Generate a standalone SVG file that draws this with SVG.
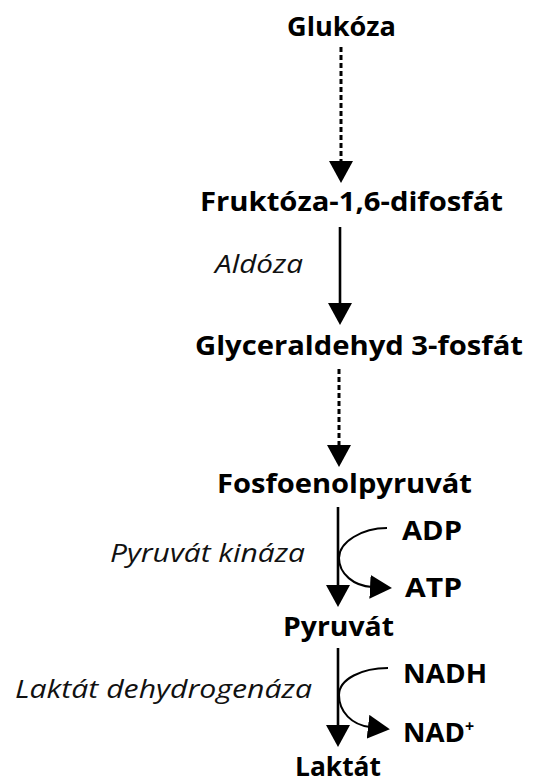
<svg xmlns="http://www.w3.org/2000/svg" width="533" height="784" viewBox="0 0 533 784">
<style>
.n{font-family:"Open Sans","DejaVu Sans",sans-serif;font-weight:bold;font-size:27px;fill:#000}
.e{font-family:"Open Sans","DejaVu Sans",sans-serif;font-style:italic;font-size:25px;fill:#111}
.s{stroke:#000;stroke-width:2.6;fill:none}
.d{stroke:#000;stroke-width:3;fill:none;stroke-dasharray:5 3}
.c{stroke:#000;stroke-width:2;fill:none}
</style>
<defs>
<marker id="ah" viewBox="0 0 22 24" refX="2" refY="12" markerWidth="22" markerHeight="24" markerUnits="userSpaceOnUse" orient="auto">
<path d="M0,0 L22,12 L0,24 z" fill="#000"/>
</marker>
</defs>
<g id="connectors">
<line class="d" x1="341" y1="47" x2="341" y2="163" marker-end="url(#ah)"/>
<line class="s" x1="340" y1="227" x2="340" y2="305" marker-end="url(#ah)"/>
<line class="d" x1="339" y1="369" x2="339" y2="447" marker-end="url(#ah)"/>
<line class="s" x1="338" y1="507" x2="338" y2="587" marker-end="url(#ah)"/>
<path class="c" d="M387,528 C362,528 339,542 339,558 C339,574 354,586 372,587" marker-end="url(#ah)"/>
<line class="s" x1="338" y1="648" x2="338" y2="727" marker-end="url(#ah)"/>
<path class="c" d="M388,668 C362,668 339,679 339,695 C339,712 352,725 370,727" marker-end="url(#ah)"/>
</g>
<g id="glukoza"><text class="n" x="287" y="36" textLength="109" lengthAdjust="spacingAndGlyphs">Glukóza</text></g>
<g id="fruktoza"><text class="n" x="200" y="211" textLength="303" lengthAdjust="spacingAndGlyphs">Fruktóza-1,6-difosfát</text></g>
<g id="aldoza"><text class="e" x="215" y="273" textLength="88" lengthAdjust="spacingAndGlyphs">Aldóza</text></g>
<g id="glyceraldehyd"><text class="n" x="195" y="355" textLength="328" lengthAdjust="spacingAndGlyphs">Glyceraldehyd 3-fosfát</text></g>
<g id="fosfoenolpyruvat"><text class="n" x="217" y="493" textLength="255" lengthAdjust="spacingAndGlyphs">Fosfoenolpyruvát</text></g>
<g id="pyruvat-kinaza"><text class="e" x="110" y="562" textLength="195" lengthAdjust="spacingAndGlyphs">Pyruvát kináza</text></g>
<g id="adp"><text class="n" x="402" y="540" textLength="60" lengthAdjust="spacingAndGlyphs">ADP</text></g>
<g id="atp"><text class="n" x="405" y="597" textLength="57" lengthAdjust="spacingAndGlyphs">ATP</text></g>
<g id="pyruvat"><text class="n" x="283" y="636" textLength="111" lengthAdjust="spacingAndGlyphs">Pyruvát</text></g>
<g id="laktat-dh"><text class="e" x="15" y="698" textLength="297" lengthAdjust="spacingAndGlyphs">Laktát dehydrogenáza</text></g>
<g id="nadh"><text class="n" x="403" y="683" textLength="84" lengthAdjust="spacingAndGlyphs">NADH</text></g>
<g id="nad"><text class="n" x="403" y="742"><tspan textLength="62" lengthAdjust="spacingAndGlyphs">NAD</tspan><tspan font-size="16" dy="-10">+</tspan></text></g>
<g id="laktat"><text class="n" x="295" y="776" textLength="86" lengthAdjust="spacingAndGlyphs">Laktát</text></g>
</svg>
